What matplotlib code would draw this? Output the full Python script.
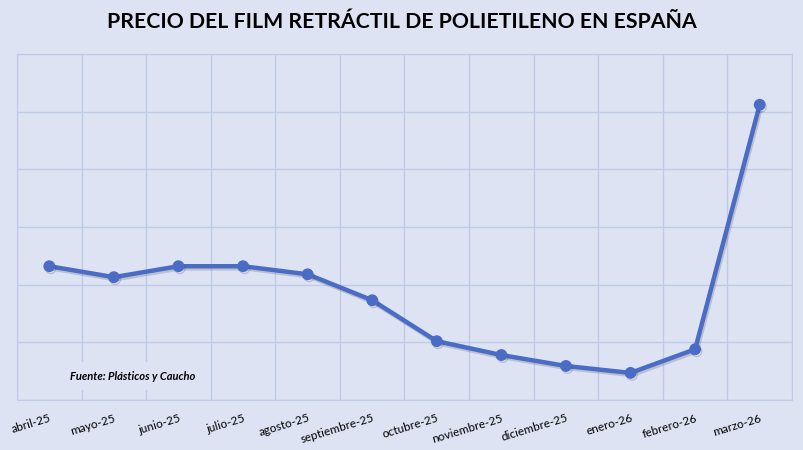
import numpy as np
import matplotlib
matplotlib.use('Agg')
import matplotlib.pyplot as plt
import matplotlib.patheffects as pe

# datos (escala relativa, sin etiquetas en el eje y)
meses = ['abril-25', 'mayo-25', 'junio-25', 'julio-25', 'agosto-25', 'septiembre-25',
         'octubre-25', 'noviembre-25', 'diciembre-25', 'enero-26', 'febrero-26', 'marzo-26']
precio = [2.32, 2.13, 2.32, 2.32, 2.18, 1.73, 1.02, 0.78, 0.59, 0.47, 0.88, 5.12]

fondo = '#dde3f3'
rejilla = '#bfcae6'
azul = '#4a6cc4'

plt.rcParams['font.family'] = ['Lato', 'DejaVu Sans']

fig = plt.figure(figsize=(8.04, 4.5), dpi=100, facecolor=fondo)
ax = fig.add_axes([17/804, 50/450, 775/804, 346/450])
ax.set_facecolor(fondo)

x = np.arange(len(meses))
ax.plot(x, precio, color=azul, lw=3.2, marker='o', ms=7.5, solid_capstyle='round',
        path_effects=[pe.SimpleLineShadow(offset=(1, -1.5), shadow_color='#303040', alpha=0.2),
                      pe.Normal()], zorder=3)

ax.set_xlim(-0.5, len(meses) - 0.5)
ax.set_ylim(0, 6)
ax.set_yticks(np.arange(0, 7))
ax.set_yticklabels([])
ax.set_xticks(x)
ax.set_xticklabels(meses, rotation=17, ha='right', rotation_mode='anchor', fontsize=8.5)
ax.set_xticks(np.arange(-0.5, len(meses)), minor=True)
ax.tick_params(axis='both', which='both', length=0)
ax.tick_params(axis='x', which='major', pad=9)
ax.grid(True, axis='y', color=rejilla, lw=1)
ax.grid(True, axis='x', which='minor', color=rejilla, lw=1)
for s in ax.spines.values():
    s.set_color(rejilla)

ax.text(0.068, 0.069, 'Fuente: Plásticos y Caucho', transform=ax.transAxes,
        fontsize=8, fontweight='bold', fontstyle='italic', va='center', zorder=4,
        bbox=dict(facecolor=fondo, edgecolor='none', pad=6))

fig.text(0.5, 0.951, 'PRECIO DEL FILM RETRÁCTIL DE POLIETILENO EN ESPAÑA',
         ha='center', va='center', fontsize=15.3, fontweight='bold')

fig.savefig('out.png', dpi=100, facecolor=fondo)
